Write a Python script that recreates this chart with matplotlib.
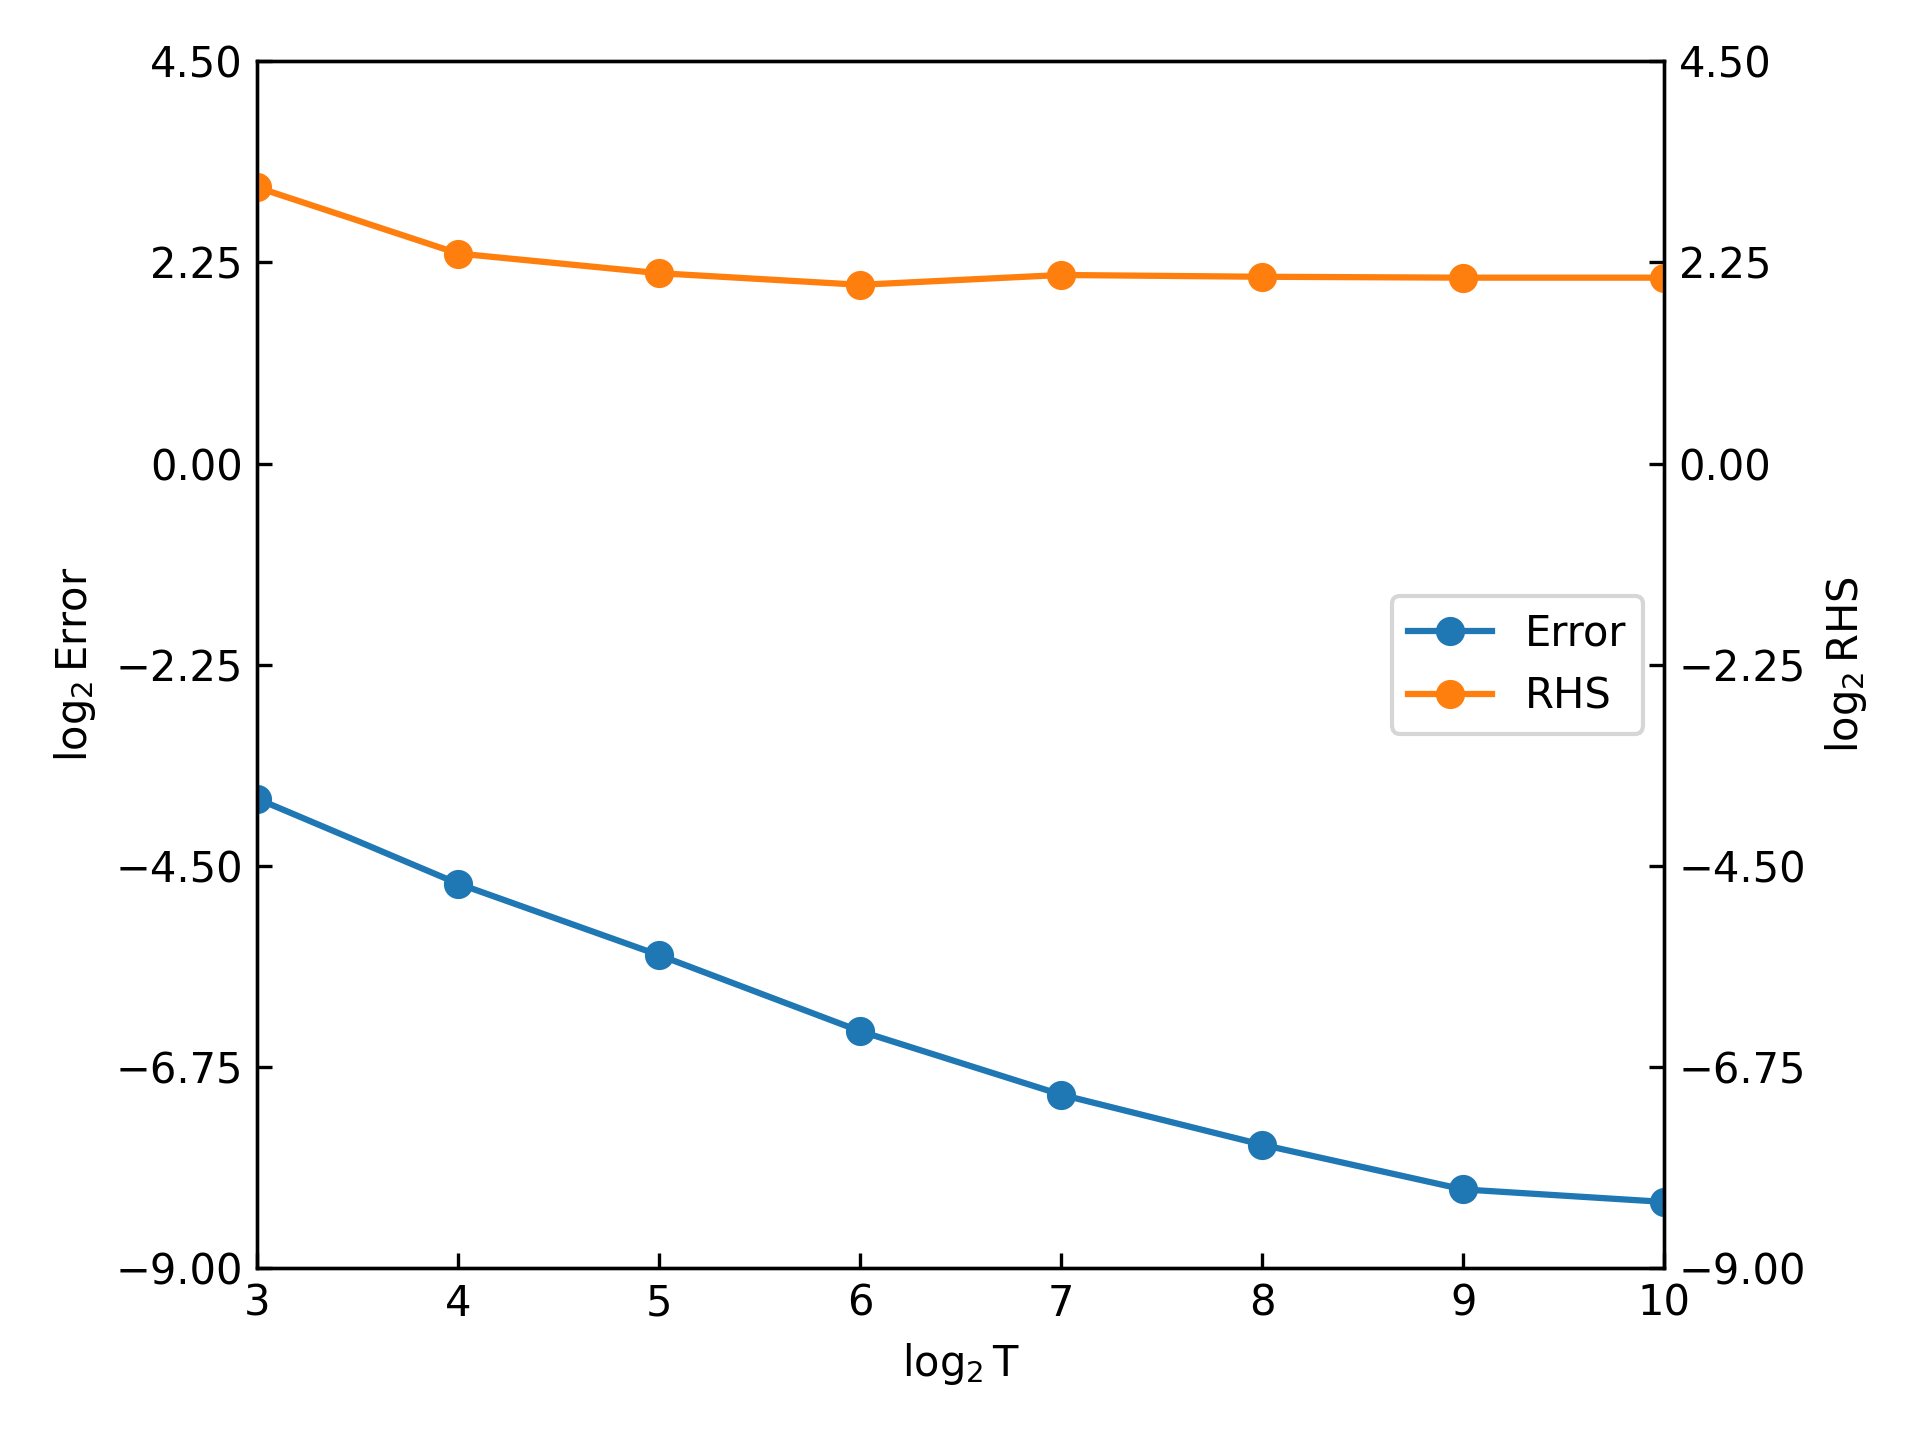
import matplotlib
matplotlib.use("Agg")
import matplotlib.pyplot as plt
import numpy as np

# log2 T
log_T = [3, 4, 5, 6, 7, 8, 9, 10]
# log2 of error and right-hand side bound
log_error = [-3.75, -4.70, -5.50, -6.35, -7.06, -7.62, -8.12, -8.26]
log_rhs = [3.09, 2.35, 2.13, 2.00, 2.11, 2.09, 2.08, 2.08]

yticks = np.linspace(-9.0, 4.5, 7)

fig, ax = plt.subplots(figsize=(6.4, 4.8), dpi=300)
ax2 = ax.twinx()

err_line, = ax.plot(log_T, log_error, marker='o', color='tab:blue',
                    label='Error')
rhs_line, = ax2.plot(log_T, log_rhs, marker='o', color='tab:orange',
                     label='RHS')

for a in (ax, ax2):
    a.set_ylim(-9.0, 4.5)
    a.set_yticks(yticks)
    a.set_yticklabels(["{:.2f}".format(v).replace('-', '\u2212') for v in yticks])
    a.tick_params(direction='in')
ax.set_xlim(3, 10)

ax.set_xlabel(r'$\log_2$T')
ax.set_ylabel(r'$\log_2$Error')
ax2.set_ylabel(r'$\log_2$RHS')

ax2.legend(handles=[err_line, rhs_line], loc='center right')

fig.subplots_adjust(left=0.134, right=0.8667, top=0.9574, bottom=0.1194)
fig.savefig('out.png')
